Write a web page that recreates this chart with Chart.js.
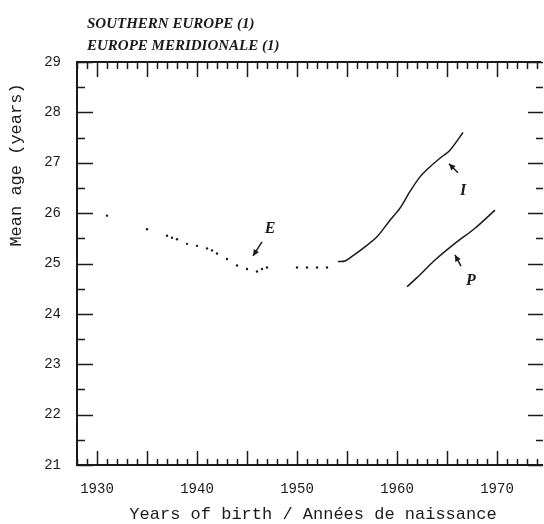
<!DOCTYPE html>
<html><head><meta charset="utf-8">
<script src="https://cdn.jsdelivr.net/npm/chart.js@4.4.1/dist/chart.umd.min.js"></script>
<style>html,body{margin:0;padding:0;background:#fff;}canvas{display:block;}</style>
</head><body>
<canvas id="c" width="544" height="524"></canvas>
<script>
// ---- text ----
const titleLines = ["SOUTHERN EUROPE (1)", "EUROPE MERIDIONALE (1)"];
const xAxisTitle = "Years of birth / Années de naissance";
const yAxisTitle = "Mean age (years)";

// ---- ticks ----
const xTickYears = [1930, 1940, 1950, 1960, 1970];
const yTickValues = [21, 22, 23, 24, 25, 26, 27, 28, 29];

// ---- series E (dotted estimates) ----
const eYears  = [1931, 1935, 1937, 1937.5, 1938, 1939, 1940, 1941, 1941.5, 1942, 1943, 1944, 1945, 1946, 1946.5, 1947, 1950, 1951, 1952, 1953];
const eValues = [25.95, 25.68, 25.55, 25.51, 25.48, 25.39, 25.35, 25.30, 25.26, 25.20, 25.09, 24.96, 24.89, 24.84, 24.89, 24.92, 24.92, 24.92, 24.92, 24.92];

// ---- series I ----
const iYears  = [1954.1, 1954.8, 1955.5, 1956.6, 1958.0, 1959.3, 1960.3, 1961.3, 1962.3, 1963.3, 1964.3, 1965.3, 1966.6];
const iValues = [25.04, 25.05, 25.14, 25.30, 25.53, 25.86, 26.10, 26.43, 26.72, 26.92, 27.09, 27.25, 27.60];

// ---- series P ----
const pYears  = [1961.0, 1962.0, 1963.8, 1965.8, 1967.8, 1969.8];
const pValues = [24.54, 24.72, 25.07, 25.40, 25.70, 26.06];

// ---- series labels (letter, anchor year/value, arrow tip, arrow tail) ----
const seriesLabels = ["E", "I", "P"];
const labelYears = [1947.3, 1966.6, 1967.4];
const labelValues = [25.69, 26.45, 24.65];
const arrowTipYears = [1945.6, 1965.2, 1965.8];
const arrowTipValues = [25.15, 26.98, 25.17];
const arrowTailYears = [1946.5, 1966.1, 1966.4];
const arrowTailValues = [25.43, 26.80, 24.95];

const toPts = (xs, ys) => xs.map((x, i) => ({x, y: ys[i]}));

const ink = '#1a1a1a';
const monoFont = '"Liberation Mono", "DejaVu Sans Mono", monospace';
const serifFont = '"Liberation Serif", "DejaVu Serif", serif';

const framePlugin = {
  id: 'frame',
  afterDraw(chart) {
    const {ctx, chartArea: a, scales: {x, y}} = chart;
    ctx.save();
    ctx.strokeStyle = ink;
    ctx.fillStyle = ink;
    // frame (right edge falls at the picture border)
    ctx.lineWidth = 2;
    ctx.beginPath();
    ctx.moveTo(a.right - 3, a.top); ctx.lineTo(a.left, a.top);
    ctx.lineTo(a.left, a.bottom); ctx.lineTo(a.right - 1, a.bottom);
    ctx.stroke();
    // x ticks (every year, long every 5)
    ctx.lineWidth = 1.5;
    ctx.beginPath();
    for (let yr = Math.ceil(x.min); yr <= Math.floor(x.max); yr++) {
      const px = Math.round(x.getPixelForValue(yr)) + 0.5;
      const long = yr % 5 === 0;
      ctx.moveTo(px, a.bottom); ctx.lineTo(px, a.bottom - (long ? 14 : 6));
      ctx.moveTo(px, a.top); ctx.lineTo(px, a.top + (long ? 15 : 7));
    }
    // y ticks (every half, long every integer)
    for (let v = y.min; v <= y.max + 1e-6; v += 0.5) {
      const py = Math.round(y.getPixelForValue(v)) + 0.5;
      const long = Math.abs(v - Math.round(v)) < 1e-6;
      ctx.moveTo(a.left, py); ctx.lineTo(a.left + (long ? 16 : 8), py);
      ctx.moveTo(a.right - 1, py); ctx.lineTo(a.right - 1 - (long ? 15 : 7), py);
    }
    ctx.stroke();

    // title
    ctx.font = 'italic bold 15px ' + serifFont;
    ctx.textAlign = 'left';
    ctx.textBaseline = 'alphabetic';
    ctx.fillText(titleLines[0], 87, 28);
    ctx.fillText(titleLines[1], 87, 50);

    // axis titles
    ctx.font = '17px ' + monoFont;
    ctx.textAlign = 'center';
    ctx.textBaseline = 'middle';
    ctx.fillText(xAxisTitle, 313, 514);
    ctx.save();
    ctx.translate(16, 165);
    ctx.rotate(-Math.PI / 2);
    ctx.fillText(yAxisTitle, 0, 0);
    ctx.restore();

    // series labels with arrows
    ctx.font = 'italic bold 16px ' + serifFont;
    seriesLabels.forEach((s, i) => {
      ctx.fillText(s, x.getPixelForValue(labelYears[i]), y.getPixelForValue(labelValues[i]));
      const tx = x.getPixelForValue(arrowTipYears[i]), ty = y.getPixelForValue(arrowTipValues[i]);
      const sx = x.getPixelForValue(arrowTailYears[i]), sy = y.getPixelForValue(arrowTailValues[i]);
      const ang = Math.atan2(ty - sy, tx - sx);
      ctx.lineWidth = 1.5;
      ctx.beginPath(); ctx.moveTo(sx, sy); ctx.lineTo(tx, ty); ctx.stroke();
      ctx.beginPath();
      ctx.moveTo(tx, ty);
      ctx.lineTo(tx - 7 * Math.cos(ang - 0.45), ty - 7 * Math.sin(ang - 0.45));
      ctx.lineTo(tx - 7 * Math.cos(ang + 0.45), ty - 7 * Math.sin(ang + 0.45));
      ctx.closePath(); ctx.fill();
    });
    ctx.restore();
  }
};

new Chart(document.getElementById('c').getContext('2d'), {
  type: 'line',
  data: {
    datasets: [
      {label: 'E', data: toPts(eYears, eValues), showLine: false, pointRadius: 1.2, pointHoverRadius: 1.2, pointBorderWidth: 0, pointBackgroundColor: ink},
      {label: 'I', data: toPts(iYears, iValues), borderColor: ink, borderWidth: 1.5, pointRadius: 0, pointHoverRadius: 0, tension: 0.3},
      {label: 'P', data: toPts(pYears, pValues), borderColor: ink, borderWidth: 1.5, pointRadius: 0, pointHoverRadius: 0, tension: 0.3}
    ]
  },
  options: {
    responsive: false,
    devicePixelRatio: 1,
    animation: false,
    layout: {autoPadding: false, padding: {top: 62, right: 0, left: 0, bottom: 0}},
    plugins: {legend: {display: false}, tooltip: {enabled: false}, title: {display: false}},
    scales: {
      x: {
        type: 'linear', min: 1928, max: 1974.7,
        grid: {display: false, drawTicks: false}, border: {display: false},
        afterBuildTicks: s => { s.ticks = xTickYears.map(v => ({value: v})); },
        afterFit: s => { s.height = 59; s.paddingLeft = 0; s.paddingRight = 0; },
        ticks: {font: {family: monoFont, size: 14}, color: ink, padding: 16, maxRotation: 0, autoSkip: false, callback: v => String(v)}
      },
      y: {
        type: 'linear', min: 21, max: 29,
        grid: {display: false, drawTicks: false}, border: {display: false},
        afterBuildTicks: s => { s.ticks = yTickValues.map(v => ({value: v})); },
        afterFit: s => { s.width = 77; },
        ticks: {font: {family: monoFont, size: 14}, color: ink, padding: 16, autoSkip: false, callback: v => String(v)}
      }
    }
  },
  plugins: [framePlugin]
});
</script>
</body></html>
